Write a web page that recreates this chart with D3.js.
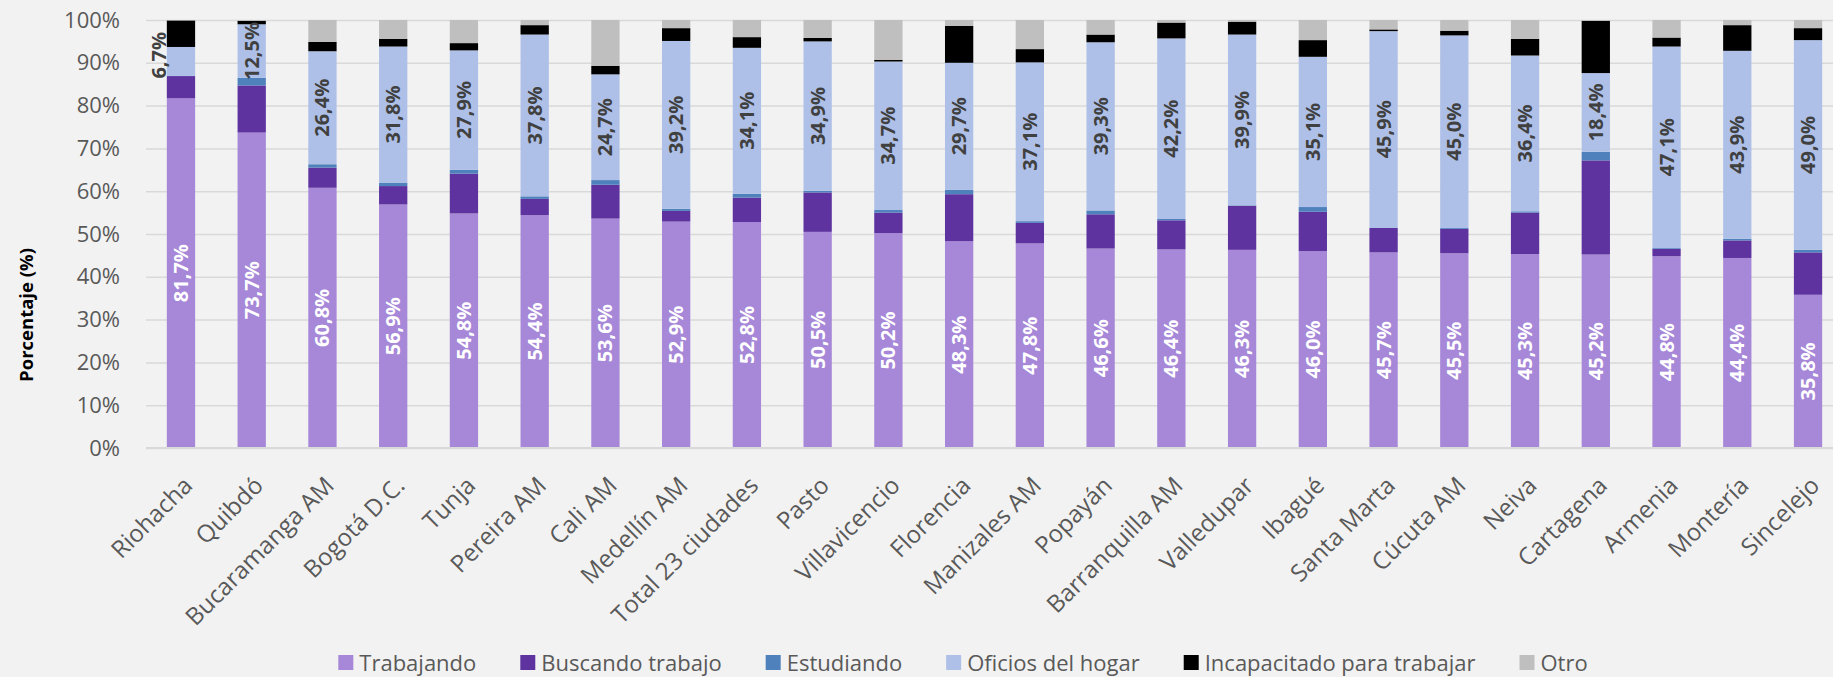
<!DOCTYPE html>
<html>
<head>
<meta charset="utf-8">
<script src="https://cdn.jsdelivr.net/npm/d3@7"></script>
<style>
  html, body { margin: 0; padding: 0; background: #F2F2F2; }
  svg { display: block; }
</style>
</head>
<body>
<svg id="chart" width="1833" height="677"></svg>
<script>
// ---- Data (percent) ----
const categories = ["Riohacha","Quibdó","Bucaramanga AM","Bogotá D.C.","Tunja","Pereira AM","Cali AM","Medellín AM","Total 23 ciudades","Pasto","Villavicencio","Florencia","Manizales AM","Popayán","Barranquilla AM","Valledupar","Ibagué","Santa Marta","Cúcuta AM","Neiva","Cartagena","Armenia","Montería","Sincelejo"];
const seriesNames = ["Trabajando","Buscando trabajo","Estudiando","Oficios del hogar","Incapacitado para trabajar","Otro"];
const trabajando   = [81.7,73.7,60.8,56.9,54.8,54.4,53.6,52.9,52.8,50.5,50.2,48.3,47.8,46.6,46.4,46.3,46.0,45.7,45.5,45.3,45.2,44.8,44.4,35.8];
const buscando     = [5.2,11.0,4.7,4.3,9.3,3.8,7.9,2.5,5.7,9.2,4.8,11.0,4.8,8.0,6.8,10.3,9.2,5.7,5.7,9.7,22.0,1.7,4.1,9.9];
const estudiando   = [0.1,1.8,0.8,0.8,0.9,0.6,1.1,0.5,0.9,0.4,0.6,1.0,0.4,0.9,0.3,0.1,1.1,0.1,0.2,0.3,2.0,0.2,0.4,0.6];
const oficios      = [6.7,12.5,26.4,31.8,27.9,37.8,24.7,39.2,34.1,34.9,34.7,29.7,37.1,39.3,42.2,39.9,35.1,45.9,45.0,36.4,18.4,47.1,43.9,49.0];
const incapacitado = [6.2,0.8,2.2,1.8,1.7,2.2,2.0,3.0,2.5,0.8,0.4,8.6,3.1,1.8,3.7,3.0,3.9,0.4,1.1,3.9,12.2,2.1,6.0,2.8];
const otro         = [0.1,0.2,5.1,4.4,5.4,1.2,10.7,1.9,4.0,4.2,9.3,1.4,6.8,3.4,0.6,0.4,4.7,2.2,2.5,4.4,0.2,4.1,1.2,1.9];
const yTicks = [0,10,20,30,40,50,60,70,80,90,100];
const colors = ["#A687D8","#5E33A0","#4F81BD","#AEC0E8","#000000","#BFBFBF"];
const labeledSeries = {"Trabajando": "#FFFFFF", "Oficios del hogar": "#404040"};

// ---- Build table ----
const valuesBySeries = [trabajando, buscando, estudiando, oficios, incapacitado, otro];
const table = categories.map((c, i) => {
  const row = {city: c};
  seriesNames.forEach((s, k) => row[s] = valuesBySeries[k][i]);
  return row;
});

const svg = d3.select("#chart");
const W = 1833, H = 677;
const margin = {top: 20, bottom: 229, left: 146};
const plotBottom = H - margin.bottom;

svg.append("rect").attr("width", W).attr("height", H).attr("fill", "#F2F2F2");

const x = d3.scaleBand().domain(categories).range([145.6, 1843.4]).paddingInner(0.6).paddingOuter(0.3);
const y = d3.scaleLinear().domain([0, 100]).range([plotBottom, margin.top]);
const fontFam = "'Open Sans', 'Noto Sans', sans-serif";

// gridlines + y axis
const yAxis = d3.axisLeft(y).tickValues(yTicks).tickFormat(d => d + "%").tickSize(-(W - margin.left)).tickPadding(26);
const gy = svg.append("g").attr("transform", `translate(${margin.left},0)`).call(yAxis);
gy.select(".domain").remove();
gy.selectAll(".tick line").attr("stroke", "#D9D9D9").attr("stroke-width", 1.5);
gy.selectAll(".tick text").attr("fill", "#595959").attr("font-family", fontFam).attr("font-size", 22);

// stacked bars
const stack = d3.stack().keys(seriesNames);
const stacked = stack(table);
const layers = svg.append("g").selectAll("g").data(stacked).join("g")
  .attr("fill", (d, i) => colors[i]);
layers.selectAll("rect").data(d => d).join("rect")
  .attr("x", d => x(d.data.city))
  .attr("width", x.bandwidth())
  .attr("y", d => y(d[1]))
  .attr("height", d => Math.max(0, y(d[0]) - y(d[1])));

// x axis
const xAxis = d3.axisBottom(x).tickSize(0).tickPadding(0);
const gx = svg.append("g").attr("transform", `translate(0,${plotBottom})`).call(xAxis);
gx.select(".domain").attr("stroke", "#D9D9D9").attr("stroke-width", 2).attr("d", `M${margin.left},0H${W}`);
gx.selectAll(".tick text")
  .attr("fill", "#595959").attr("font-family", fontFam).attr("font-size", 24)
  .attr("text-anchor", "end").attr("dy", 0).attr("y", 0)
  .attr("transform", "translate(13,39) rotate(-45)");

// data labels
const fmt = v => d3.format(".1f")(v).replace(".", ",") + "%";
stacked.forEach((layer) => {
  const col = labeledSeries[layer.key];
  if (!col) return;
  const g = svg.append("g");
  layer.forEach(d => {
    const cx = x(d.data.city) + x.bandwidth() / 2;
    const cy = (y(d[0]) + y(d[1])) / 2;
    const t = g.append("text")
      .attr("font-family", fontFam).attr("font-weight", "bold").attr("font-size", 20)
      .attr("fill", col).attr("text-anchor", "middle")
      .text(fmt(d[1] - d[0]));
    const len = t.node().getComputedTextLength();
    const segH = y(d[0]) - y(d[1]);
    if (len > segH + 12) {
      // does not fit: place just left of the bar
      const lx = x(d.data.city) - 1;
      t.attr("transform", `translate(${lx},${cy - 6}) rotate(-90)`).attr("dy", 0);
    } else {
      t.attr("transform", `translate(${cx},${cy}) rotate(-90)`).attr("dy", "0.35em");
    }
  });
});

// y axis title
svg.append("text")
  .attr("transform", `translate(33,315) rotate(-90)`)
  .attr("text-anchor", "middle")
  .attr("font-family", fontFam).attr("font-weight", "bold").attr("font-size", 18.5)
  .attr("fill", "#000").text("Porcentaje (%)");

// legend
const legend = svg.append("g");
let lx = 0;
seriesNames.forEach((s, i) => {
  const g = legend.append("g");
  g.append("rect").attr("x", 0).attr("y", -8).attr("width", 15).attr("height", 15).attr("fill", colors[i]);
  const t = g.append("text").attr("x", 21).attr("y", 0).attr("dy", "0.35em")
    .attr("font-family", fontFam).attr("font-size", 22).attr("fill", "#595959").text(s);
  const w = 21 + t.node().getComputedTextLength();
  g.attr("transform", `translate(${lx},0)`);
  lx += w + 44;
});
const totalW = lx - 44;
legend.attr("transform", `translate(${963 - totalW / 2},663)`);
</script>
</body>
</html>
